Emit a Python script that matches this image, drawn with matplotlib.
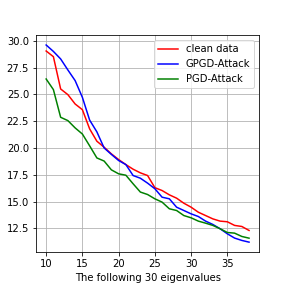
import matplotlib
matplotlib.use("Agg")
import matplotlib.pyplot as plt

# eigenvalue index (the following 30 eigenvalues)
idx = list(range(10, 39))

clean_data = [29.04, 28.51, 25.5, 24.97, 24.1, 23.57, 21.78, 20.63, 20.07, 19.45,
              18.92, 18.45, 18.02, 17.68, 17.43, 16.3, 16.03, 15.63, 15.32, 14.85,
              14.48, 14.01, 13.7, 13.39, 13.18, 13.12, 12.78, 12.68, 12.31]
gpgd_attack = [29.6, 29.0, 28.3, 27.27, 26.28, 24.72, 22.6, 21.5, 20.0, 19.4,
               18.83, 18.45, 17.43, 17.18, 16.72, 16.2, 15.41, 15.26, 14.48, 14.17,
               13.86, 13.61, 13.18, 12.87, 12.47, 12.0, 11.6, 11.38, 11.22]
pgd_attack = [26.43, 25.44, 22.86, 22.55, 21.87, 21.3, 20.2, 19.07, 18.78, 17.96,
              17.59, 17.46, 16.66, 15.89, 15.66, 15.26, 14.95, 14.33, 14.17, 13.7,
              13.49, 13.18, 12.99, 12.78, 12.47, 12.12, 12.06, 11.75, 11.59]

fig = plt.figure(figsize=(4, 4), dpi=72)
ax = fig.add_subplot(111)
fig.subplots_adjust(left=0.125, right=0.9, top=0.878, bottom=0.125)

ax.plot(idx, clean_data, color='r', label='clean data')
ax.plot(idx, gpgd_attack, color='b', label='GPGD-Attack')
ax.plot(idx, pgd_attack, color='g', label='PGD-Attack')

ax.set_xlabel('The following 30 eigenvalues')
ax.grid()
ax.legend(loc='upper right')

fig.savefig('out.png', dpi=72)
